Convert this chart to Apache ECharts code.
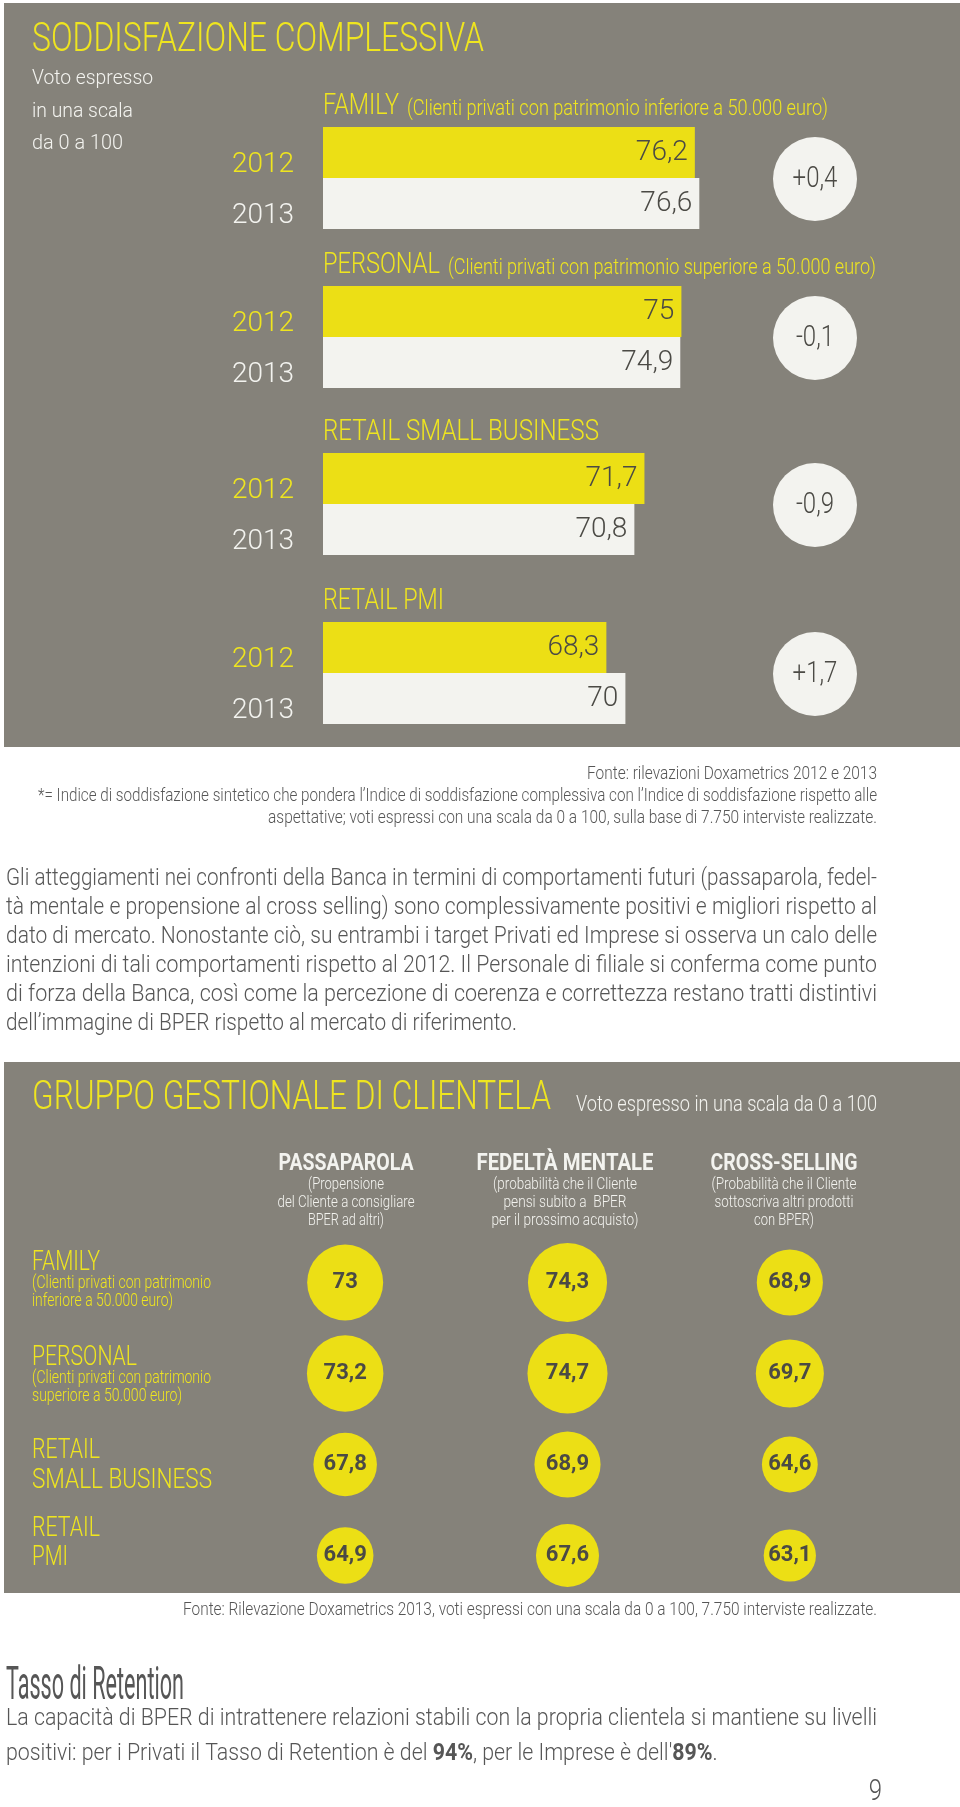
<!DOCTYPE html>
<html>
<head>
<meta charset="utf-8">
<script src="https://cdn.jsdelivr.net/npm/echarts@6/dist/echarts.min.js"></script>
<style>
html,body{margin:0;padding:0;background:#ffffff;}
#chart{width:960px;height:1807px;}
</style>
</head>
<body>
<div id="chart"></div>
<script>
// ---------------- DATA ----------------
const segments = ['FAMILY', 'PERSONAL', 'RETAIL SMALL BUSINESS', 'RETAIL PMI'];
const segmentNotes = ['(Clienti privati con patrimonio inferiore a 50.000 euro)', '(Clienti privati con patrimonio superiore a 50.000 euro)', '', ''];
const years = ['2012', '2013'];
const score2012 = [76.2, 75, 71.7, 68.3];
const score2013 = [76.6, 74.9, 70.8, 70];

const metrics = ['PASSAPAROLA', 'FEDELTÀ MENTALE', 'CROSS-SELLING'];
const metricNotes = [
  ['(Propensione', 'del Cliente a consigliare', 'BPER ad altri)'],
  ['(probabilità che il Cliente', 'pensi subito a  BPER', 'per il prossimo acquisto)'],
  ['(Probabilità che il Cliente', 'sottoscriva altri prodotti', 'con BPER)']
];
const groups = ['FAMILY', 'PERSONAL', 'RETAIL SMALL BUSINESS', 'RETAIL PMI'];
const groupLabelLines = [['FAMILY'], ['PERSONAL'], ['RETAIL', 'SMALL BUSINESS'], ['RETAIL', 'PMI']];
const groupNotes = [['(Clienti privati con patrimonio', 'inferiore a 50.000 euro)'], ['(Clienti privati con patrimonio', 'superiore a 50.000 euro)'], [], []];
const passaparola = [73, 73.2, 67.8, 64.9];
const fedelta = [74.3, 74.7, 68.9, 67.6];
const crossSelling = [68.9, 69.7, 64.6, 63.1];

const paragraph1 = [
  'Gli atteggiamenti nei confronti della Banca in termini di comportamenti futuri (passaparola, fedel-',
  'tà mentale e propensione al cross selling) sono complessivamente positivi e migliori rispetto al',
  'dato di mercato. Nonostante ciò, su entrambi i target Privati ed Imprese si osserva un calo delle',
  'intenzioni di tali comportamenti rispetto al 2012. Il Personale di filiale si conferma come punto',
  'di forza della Banca, così come la percezione di coerenza e correttezza restano tratti distintivi',
  'dell’immagine di BPER rispetto al mercato di riferimento.'
];
const note1 = [
  'Fonte: rilevazioni Doxametrics 2012 e 2013',
  '*= Indice di soddisfazione sintetico che pondera l’Indice di soddisfazione complessiva con l’Indice di soddisfazione rispetto alle',
  'aspettative; voti espressi con una scala da 0 a 100, sulla base di 7.750 interviste realizzate.'
];

// ---------------- STYLE / LAYOUT ----------------
const FONT = 'Roboto, "Noto Sans", "DejaVu Sans", sans-serif';
const COL = { gray: '#85827a', yellow: '#ecdf15', yText: '#efe51f', light: '#f3f3ef', dark: '#4b4a45', body: '#565656' };
const BAR_TOPS = [127, 286, 453, 622], BAR_H = 102, BAR_LEFT = 323, BAR_W = 560;
const SEG_W = [76, 117, 276, 121], NOTE_W = [421, 428];
const DIFF_X = 815, DIFF_R = 42, DIFF_DY = 52;

const cv = document.createElement('canvas').getContext('2d');
function mw(s, size, weight) { cv.font = weight + ' ' + size + 'px ' + FONT; return cv.measureText(s).width; }
function fmt(v) { return String(v).replace('.', ','); }

function txt(x, base, s, size, color, o) {
  o = o || {};
  const weight = o.weight || 300;
  const align = o.align || 'left';
  let sx = o.sx || 1;
  if (o.w) sx = o.w / mw(s, size, weight);
  return {
    type: 'text', x: x, y: base - 0.34 * size, scaleX: sx, scaleY: 1, z: 100, silent: true,
    style: {
      text: s, fontSize: size, fontFamily: FONT, fontWeight: weight, fill: color,
      align: align, textAlign: align, verticalAlign: 'middle', textVerticalAlign: 'middle',
      rich: o.rich
    }
  };
}

const G = [];
// panels
G.push({ type: 'rect', z: -10, silent: true, shape: { x: 4, y: 3, width: 956, height: 744 }, style: { fill: COL.gray } });
G.push({ type: 'rect', z: -10, silent: true, shape: { x: 4, y: 1062, width: 956, height: 531 }, style: { fill: COL.gray } });

// panel 1 texts
G.push(txt(32, 55, 'SODDISFAZIONE COMPLESSIVA', 40, COL.yText, { w: 452 }));
G.push(txt(32, 86, 'Voto espresso', 21, COL.light, { w: 121 }));
G.push(txt(32, 119, 'in una scala', 21, COL.light, { w: 101 }));
G.push(txt(32, 151, 'da 0 a 100', 21, COL.light, { w: 91 }));

segments.forEach(function (s, i) {
  const base = BAR_TOPS[i] - 10;
  G.push(txt(BAR_LEFT, base, s, 29, COL.yText, { w: SEG_W[i] }));
  if (segmentNotes[i]) G.push(txt(BAR_LEFT + SEG_W[i] + 8, base, segmentNotes[i], 22, COL.yText, { w: NOTE_W[i] }));
  const d = Math.round((score2013[i] - score2012[i]) * 10) / 10;
  const cy = BAR_TOPS[i] + DIFF_DY;
  G.push({ type: 'circle', z: 50, silent: true, shape: { cx: DIFF_X, cy: cy, r: DIFF_R }, style: { fill: COL.light } });
  G.push(txt(DIFF_X, cy + 0.34 * 30, (d > 0 ? '+' : '') + fmt(d), 30, COL.dark, { align: 'center', sx: 0.8 }));
});

// notes under panel 1
G.push(txt(877, 781, note1[0], 18, COL.body, { align: 'right', w: 290 }));
G.push(txt(877, 803, note1[1], 18, COL.body, { align: 'right', w: 839 }));
G.push(txt(877, 825, note1[2], 18, COL.body, { align: 'right', w: 609 }));

// paragraph
paragraph1.forEach(function (line, k) {
  G.push(txt(6, 887 + 29 * k, line, 23, COL.body, { w: k < 5 ? 871 : 511 }));
});

// panel 2 texts
G.push(txt(32, 1113, 'GRUPPO GESTIONALE DI CLIENTELA', 40, COL.yText, { w: 519 }));
G.push(txt(576, 1113, 'Voto espresso in una scala da 0 a 100', 22, COL.light, { w: 301 }));
const HEAD_X = [346, 565, 784], HEAD_W = [135, 177, 147];
const SUB_W = [[76, 137, 76], [144, 123, 147], [145, 139, 60]];
metrics.forEach(function (m, c) {
  G.push(txt(HEAD_X[c], 1172, m, 24, COL.light, { align: 'center', weight: 'bold', w: HEAD_W[c] }));
  metricNotes[c].forEach(function (l, k) {
    G.push(txt(HEAD_X[c], 1191 + 18 * k, l, 17, COL.light, { align: 'center', w: SUB_W[c][k] }));
  });
});
const ROW_BASE = [[1272], [1367], [1460, 1490], [1538, 1567]];
const ROW_W = [[68], [105], [68, 180], [68, 36]];
const ROWNOTE_W = [[179, 141], [179, 150]];
groupLabelLines.forEach(function (lines, r) {
  lines.forEach(function (l, k) { G.push(txt(32, ROW_BASE[r][k], l, 27, COL.yText, { w: ROW_W[r][k] })); });
  groupNotes[r].forEach(function (l, k) { G.push(txt(32, ROW_BASE[r][0] + 18 * (k + 1), l, 18, COL.yText, { w: ROWNOTE_W[r][k] })); });
});

// footer
G.push(txt(877, 1617, 'Fonte: Rilevazione Doxametrics 2013, voti espressi con una scala da 0 a 100, 7.750 interviste realizzate.', 18, COL.body, { align: 'right', w: 694 }));
G.push(txt(6, 1703, 'Tasso di Retention', 46, COL.body, { weight: 400, w: 178 }));
const fl1 = 'La capacità di BPER di intrattenere relazioni stabili con la propria clientela si mantiene su livelli';
const fsx = 871 / mw(fl1, 23, 300);
G.push(txt(6, 1727, fl1, 23, COL.body, { w: 871 }));
G.push(txt(6, 1762, 'positivi: per i Privati il Tasso di Retention è del {b|94%}, per le Imprese è dell\'{b|89%}.', 23, COL.body, {
  sx: fsx, rich: { b: { fontSize: 23, fontFamily: FONT, fontWeight: 'bold', fill: COL.body, color: COL.body } }
}));
G.push(txt(882, 1803, '9', 30, COL.body, { align: 'right', sx: 0.8 }));

// ---------------- CHART ----------------
const grids = [], xAxes = [], yAxes = [], series = [];
segments.forEach(function (s, i) {
  grids.push({ left: BAR_LEFT, top: BAR_TOPS[i], width: BAR_W, height: BAR_H });
  xAxes.push({ type: 'value', gridIndex: i, min: 43, max: 93, show: false });
  yAxes.push({
    type: 'category', gridIndex: i, data: years, inverse: true,
    axisLine: { show: false }, axisTick: { show: false }, splitLine: { show: false },
    axisLabel: {
      margin: 29, padding: [24, 0, 0, 0],
      formatter: function (v, k) { return (k === 0 ? '{a|' : '{b|') + v + '}'; },
      rich: {
        a: { color: COL.yText, fontSize: 28, fontWeight: 300, fontFamily: FONT },
        b: { color: COL.light, fontSize: 28, fontWeight: 300, fontFamily: FONT }
      }
    }
  });
  series.push({
    type: 'bar', name: s, xAxisIndex: i, yAxisIndex: i, barCategoryGap: '0%',
    data: [
      { value: score2012[i], itemStyle: { color: COL.yellow } },
      { value: score2013[i], itemStyle: { color: COL.light } }
    ],
    label: {
      show: true, position: 'insideRight', distance: 7,
      formatter: function (p) { return fmt(p.value); },
      fontFamily: FONT, fontSize: 28, fontWeight: 300, color: COL.dark
    }
  });
});

// bubble grid
grids.push({ left: 234, top: 1237, width: 667, height: 364 });
xAxes.push({ type: 'category', gridIndex: 4, data: metrics, show: false });
yAxes.push({ type: 'category', gridIndex: 4, data: groups, inverse: true, show: false });
const bubbleData = [];
[passaparola, fedelta, crossSelling].forEach(function (arr, c) {
  arr.forEach(function (v, r) { bubbleData.push([c, r, v]); });
});
series.push({
  type: 'scatter', xAxisIndex: 4, yAxisIndex: 4, data: bubbleData,
  symbolSize: function (d) { return 52 + (d[2] - 63) * 2.4; },
  itemStyle: { color: COL.yellow, opacity: 1 },
  label: {
    show: true, position: 'inside',
    formatter: function (p) { return fmt(p.value[2]); },
    fontFamily: FONT, fontSize: 22, fontWeight: 'bold', color: COL.dark
  }
});

const chart = echarts.init(document.getElementById('chart'), null, { renderer: 'canvas', width: 960, height: 1807 });
chart.setOption({
  animation: false,
  backgroundColor: '#ffffff',
  grid: grids, xAxis: xAxes, yAxis: yAxes, series: series,
  graphic: { elements: G }
});
</script>
</body>
</html>
